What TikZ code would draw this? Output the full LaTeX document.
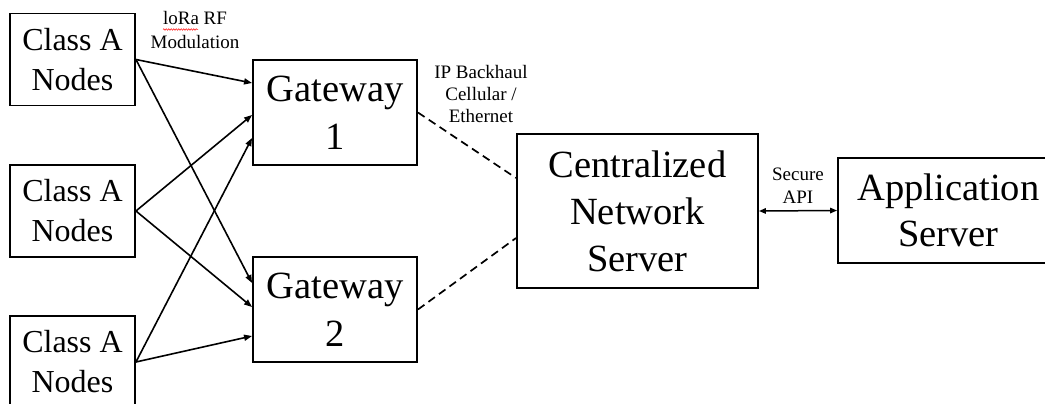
\documentclass[tikz,border=0pt]{standalone}
\usepackage{fontspec}
\setmainfont{Liberation Serif}
\usetikzlibrary{arrows.meta,calc,decorations.pathmorphing}
\begin{document}
\begin{tikzpicture}[x=1pt,y=-1pt,
  box/.style={draw,line width=1.9pt,inner sep=0pt,align=center},
  classbox/.style={box,minimum width=125pt,minimum height=92pt,font=\fontsize{32}{40}\selectfont},
  gwbox/.style={box,minimum width=164pt,minimum height=105pt,font=\fontsize{38.5}{48}\selectfont},
  lbl/.style={inner sep=0pt,align=center},
  rf/.style={line width=1.6pt,-{Triangle[length=8pt,width=6pt]}},
  backhaul/.style={line width=1.7pt,dash pattern=on 8pt off 5pt},
  api/.style={line width=1.5pt,{Triangle[length=7pt,width=5.5pt]}-{Triangle[length=7pt,width=5.5pt]}}]
\useasboundingbox (0,0) rectangle (1045,404);
\clip (0,0) rectangle (1045,404);
\fill[white] (0,0) rectangle (1045,404);

\node[classbox] (ca1) at (72.5,59.5) {Class A\\Nodes};
\node[classbox] (ca2) at (72.5,211) {Class A\\Nodes};
\node[classbox] (ca3) at (72.5,362) {Class A\\Nodes};

\node[gwbox] (gw1) at (335,112.5) {Gateway\\1};
\node[gwbox] (gw2) at (335,309.5) {Gateway\\2};

\node[box,minimum width=241pt,minimum height=154pt,font=\fontsize{38.5}{47}\selectfont] (ns) at (637.5,211) {Centralized\\Network\\Server};
\node[box,minimum width=221pt,minimum height=105pt,font=\fontsize{38.5}{46}\selectfont] (app) at (948.5,210.5) {Application\\Server};

\node[lbl,font=\fontsize{19}{24}\selectfont] (lora) at (195,30.5) {loRa RF\\Modulation};
\node[lbl,font=\fontsize{19}{22}\selectfont] (ip) at (481,94.5) {IP Backhaul\\Cellular /\\Ethernet};
\node[lbl,font=\fontsize{19}{23}\selectfont] (sapi) at (798,185.4) {Secure\\API};
\draw[red,line width=0.5pt,decorate,decoration={snake,amplitude=0.8pt,segment length=2.5pt}] (163,29.5) -- (198,29.5);

\draw[rf] (ca1.east) -- ([yshift=29.5pt]gw1.west);
\draw[rf] (ca1.east) -- ([yshift=26.5pt]gw2.west);
\draw[rf] (ca2.east) -- ([yshift=-2.5pt]gw1.west);
\draw[rf] (ca2.east) -- ([yshift=2.5pt]gw2.west);
\draw[rf] (ca3.east) -- ([yshift=-25.5pt]gw1.west);
\draw[rf] (ca3.east) -- ([yshift=-26.5pt]gw2.west);

\draw[backhaul] (gw1.east) -- ([yshift=33pt]ns.west);
\draw[backhaul] (gw2.east) -- ([yshift=-27pt]ns.west);

\draw[api] (ns.east) -- (app.west);
\end{tikzpicture}
\end{document}
